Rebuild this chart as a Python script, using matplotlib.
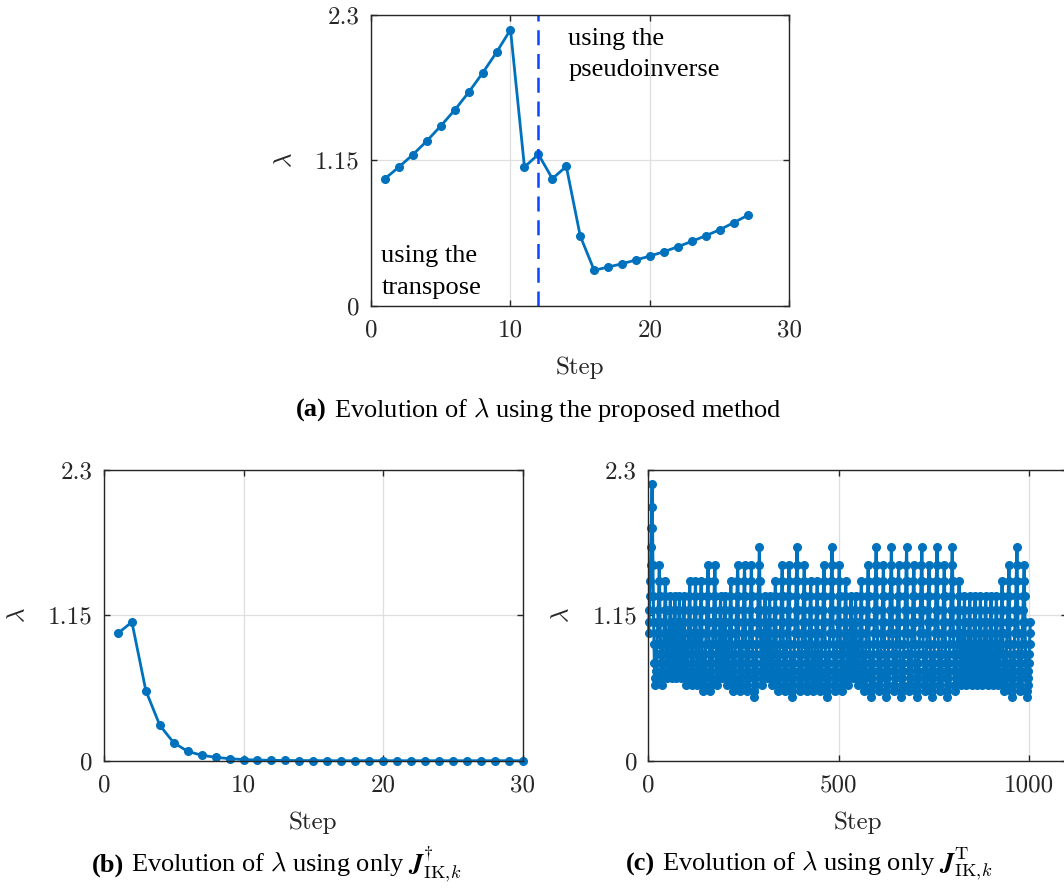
import matplotlib
matplotlib.use("Agg")
import matplotlib.pyplot as plt
from matplotlib.offsetbox import TextArea, HPacker, AnnotationBbox

plt.rcParams['mathtext.fontset'] = 'cm'
plt.rcParams['axes.unicode_minus'] = False

BLUE = '#0072BD'
AXC = '#262626'
GRID = '#DFDFDF'
TICKFONT = 'cmr10'
SERIF = 'Liberation Serif'

# (a) proposed method
steps_a = list(range(1, 28))
lam_a = [1.005, 1.097, 1.195, 1.303, 1.422, 1.548, 1.688, 1.841, 2.005, 2.184,
         1.097, 1.198, 1.005, 1.102, 0.551, 0.280, 0.306, 0.332, 0.362, 0.393,
         0.427, 0.467, 0.509, 0.554, 0.601, 0.657, 0.715]
switch_step = 12

# (b) pseudoinverse only
steps_b = list(range(1, 31))
lam_b = [1.008, 1.097, 0.554, 0.280, 0.142, 0.074, 0.043, 0.027, 0.016, 0.009,
         0.005, 0.003, 0.002, 0.001, 0.001, 0.0, 0.0, 0.0, 0.0, 0.0,
         0.0, 0.0, 0.0, 0.0, 0.0, 0.0, 0.0, 0.0, 0.0, 0.0]

# (c) transpose only: lambda moves on a ladder of discrete levels
levels_c = [0.503, 0.549, 0.598, 0.652, 0.711, 0.775, 0.845, 0.920, 1.008,
            1.100, 1.195, 1.303, 1.419, 1.551, 1.688, 1.841, 2.007, 2.187]
start_c = 8
peaks_c = [17, 13, 12, 11, 11, 11, 11, 12, 12, 12, 13, 13, 11, 11, 12, 13, 13,
           13, 14, 11, 11, 12, 13, 13, 14, 13, 12, 12, 13, 14, 13, 12, 11, 11,
           12, 13, 14, 13, 14, 13, 14, 13, 14, 13, 14, 13, 14, 12, 11, 11, 11,
           11, 11, 11, 11, 12, 13, 14, 13]
feet_c = [2, 2, 3, 3, 3, 3, 2, 2, 2, 1, 1, 2, 3, 2, 1, 1, 1, 0, 2, 3, 2, 1, 1,
          0, 1, 1, 1, 1, 0, 1, 1, 2, 3, 2, 1, 0, 1, 0, 1, 0, 1, 0, 1, 0, 1, 0,
          1, 2, 2, 2, 2, 2, 2, 2, 2, 1, 0, 1, 0]
end_c = 9

# walk the ladder: one level up per step, two levels down per step
idx = [start_c]
cur = start_c
for p, f in zip(peaks_c, feet_c):
    while cur < p:
        cur += 1
        idx.append(cur)
    while cur > f:
        cur = max(f, cur - 2)
        idx.append(cur)
while cur < end_c:
    cur += 1
    idx.append(cur)
lam_c = [levels_c[i] for i in idx]
steps_c = list(range(1, len(lam_c) + 1))

fig = plt.figure(figsize=(10.64, 8.88), dpi=100)
W, H = 1064.0, 888.0


def make_axes(left, bottom, xmax, xticks):
    ax = fig.add_axes([left / W, 1 - bottom / H, 418.5 / W, 290.7 / H])
    ax.set_xlim(0, xmax)
    ax.set_ylim(0, 2.3)
    ax.set_xticks(xticks)
    ax.set_yticks([0, 1.15, 2.3])
    ax.set_yticklabels(['0', '1.15', '2.3'])
    ax.set_xticklabels([str(t) for t in xticks])
    ax.grid(True, color=GRID, lw=0.9)
    ax.set_axisbelow(True)
    for s in ax.spines.values():
        s.set_color(AXC)
        s.set_linewidth(1.0)
    ax.tick_params(direction='in', length=4, width=1.0, color=AXC,
                   top=True, right=True, labelcolor=AXC, labelsize=18)
    ax.tick_params(axis='x', pad=10)
    ax.tick_params(axis='y', pad=8)
    for lab in ax.get_xticklabels() + ax.get_yticklabels():
        lab.set_fontfamily(TICKFONT)
    ax.set_xlabel('Step', fontfamily=TICKFONT, fontsize=18, color=AXC)
    ax.set_ylabel(r'$\lambda$', fontsize=18, color=AXC, rotation=90)
    ax.xaxis.set_label_coords(0.5, -0.176)
    ax.yaxis.set_label_coords(-0.18, 0.5)
    return ax


ax_a = make_axes(371, 305.7, 30, [0, 10, 20, 30])
ax_a.plot(steps_a, lam_a, color=BLUE, lw=2.0, marker='o', ms=5.5, clip_on=False)
ax_a.axvline(switch_step, color='#0a45ff', lw=1.8, dashes=(6, 3.5))
ax_a.text(0.471, 0.955, 'using the\npseudoinverse', transform=ax_a.transAxes,
          ha='left', va='top', fontfamily=SERIF, fontsize=19, linespacing=1.55)
ax_a.text(0.025, 0.024, 'using the\ntranspose', transform=ax_a.transAxes,
          ha='left', va='bottom', fontfamily=SERIF, fontsize=19, linespacing=1.55)

ax_b = make_axes(104, 760.7, 30, [0, 10, 20, 30])
ax_b.plot(steps_b, lam_b, color=BLUE, lw=2.0, marker='o', ms=5.5, clip_on=False)

ax_c = make_axes(648.3, 760.7, 1100, [0, 500, 1000])
ax_c.plot(steps_c, lam_c, color=BLUE, lw=2.2, marker='o', ms=5.5, clip_on=False)


def caption(x, y, tag, rest):
    a = TextArea(tag, textprops=dict(family=SERIF, weight='bold', size=19))
    b = TextArea(rest, textprops=dict(family=SERIF, size=19))
    box = HPacker(children=[a, b], align='baseline', pad=0, sep=5)
    ab = AnnotationBbox(box, (x / W, 1 - y / H), xycoords='figure fraction',
                        frameon=False, box_alignment=(0.5, 0.5))
    fig.add_artist(ab)


caption(539, 410, '(a)', r'Evolution of $\lambda$ using the proposed method')
caption(277, 864, '(b)', r'Evolution of $\lambda$ using only $\mathbfit{J}_{\mathrm{IK},\!k}^{\dagger}$')
caption(809, 864, '(c)', r'Evolution of $\lambda$ using only $\mathbfit{J}_{\mathrm{IK},\!k}^{\mathrm{T}}$')

fig.savefig('out.png', dpi=100)
